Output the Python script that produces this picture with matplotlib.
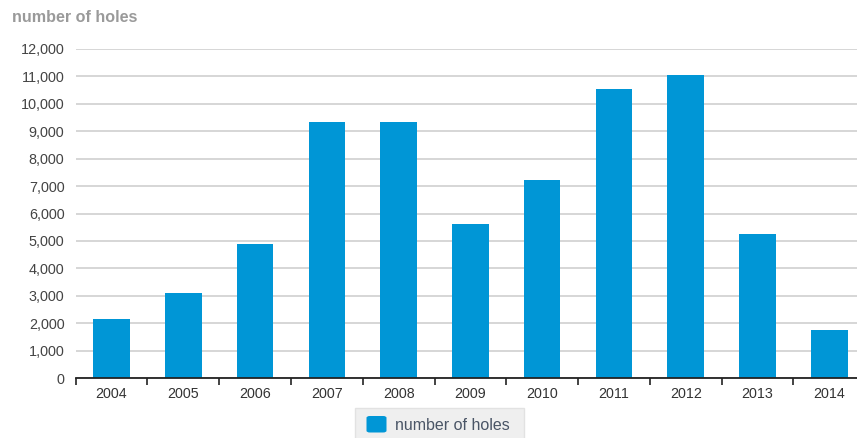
import matplotlib
matplotlib.use("Agg")
import matplotlib.pyplot as plt
from matplotlib.patches import FancyBboxPatch, Rectangle
from matplotlib.ticker import FuncFormatter

years = ["2004", "2005", "2006", "2007", "2008", "2009", "2010", "2011", "2012", "2013", "2014"]
holes = [2150, 3120, 4900, 9320, 9320, 5630, 7210, 10540, 11040, 5240, 1750]
series_name = "number of holes"
y_ticks = [0, 1000, 2000, 3000, 4000, 5000, 6000, 7000, 8000, 9000, 10000, 11000, 12000]

W, H = 857, 438
plt.rcParams['font.family'] = ['Liberation Sans', 'DejaVu Sans']
fig = plt.figure(figsize=(W / 100, H / 100), dpi=100)

BAR = "#0096d6"
left_px, right_px = 75.6, 865.2
top_px, bottom_px = 48.7, 378.3
ax = fig.add_axes([left_px / W, (H - bottom_px) / H, (right_px - left_px) / W, (bottom_px - top_px) / H])

x = list(range(len(years)))
ax.bar(x, holes, width=0.51, color=BAR, zorder=3)

ax.set_xlim(-0.5, len(years) - 0.5)
ax.set_ylim(0, 12000)
ax.set_yticks(y_ticks)
ax.yaxis.set_major_formatter(FuncFormatter(lambda v, p: f"{int(v):,}"))
ax.yaxis.grid(True, color="#d0d0d0", linewidth=1.2, zorder=0)
ax.set_axisbelow(True)
for s in ["left", "right", "top"]:
    ax.spines[s].set_visible(False)
ax.spines["bottom"].set_color("#222222")
ax.spines["bottom"].set_linewidth(1.3)
ax.spines["bottom"].set_zorder(4)

ax.set_xticks(x)
ax.set_xticklabels(years)
ax.set_xticks([i - 0.5 for i in range(len(years) + 1)], minor=True)
ax.tick_params(axis="x", which="major", length=0, pad=6, labelsize=10.3, labelcolor="#333333")
ax.tick_params(axis="x", which="minor", length=5, width=1.2, color="#222222", direction="out")
ax.tick_params(axis="y", length=0, pad=8, labelsize=10.4, labelcolor="#444444")

fig.text(12 / W, 1 - 17 / H, "number of holes", fontsize=11.6, fontweight="bold",
         color="#9a9a9a", ha="left", va="center")

# legend box
lx0, lx1, ly0, ly1 = 355, 524, 407.7, 440
fig.patches.append(Rectangle((lx0 / W, 1 - ly1 / H), (lx1 - lx0) / W, (ly1 - ly0) / H,
                             transform=fig.transFigure, facecolor="#efefef",
                             edgecolor="#e2e2e2", linewidth=1))
sx0, sx1, sy0, sy1 = 366.5, 386.5, 416, 432.5
fig.patches.append(FancyBboxPatch((sx0 / W, 1 - sy1 / H), (sx1 - sx0) / W, (sy1 - sy0) / H,
                                  boxstyle="round,pad=0,rounding_size=0.004",
                                  transform=fig.transFigure, facecolor=BAR, edgecolor="none"))
fig.text(395 / W, 1 - 425 / H, series_name, fontsize=11.5, color="#4a5566",
         ha="left", va="center")

fig.savefig("out.png", dpi=100)
